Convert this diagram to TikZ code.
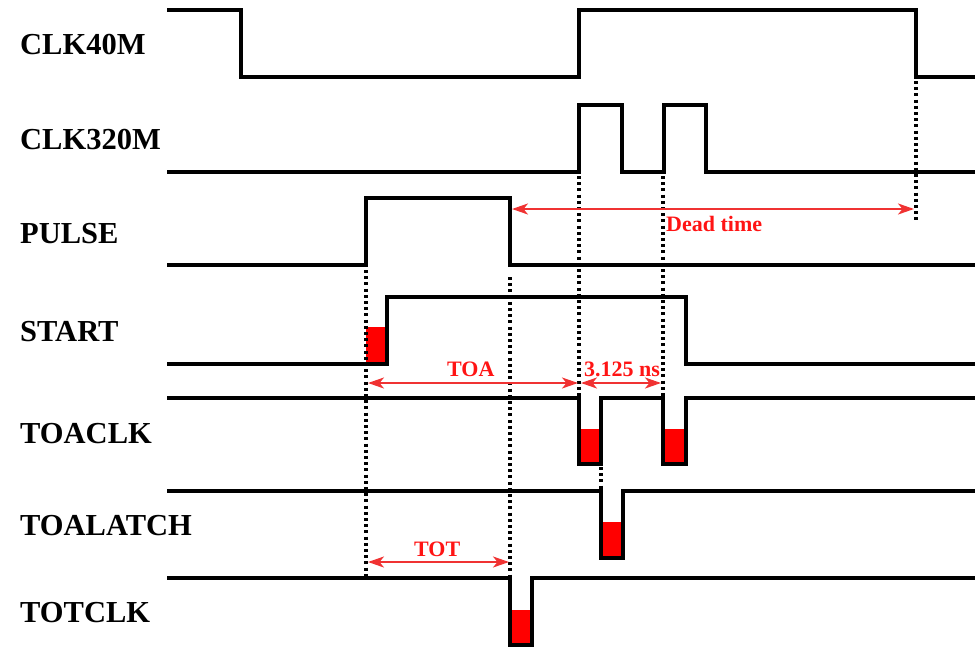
\documentclass[tikz,border=0pt]{standalone}
\usepackage{fontspec}
\setmainfont{Liberation Serif}
\usetikzlibrary{arrows.meta}
\definecolor{arrred}{RGB}{240,50,50}
\definecolor{txtred}{RGB}{255,20,20}
\definecolor{boxred}{RGB}{255,0,0}
\tikzset{
  wave/.style={line width=4.4pt, line join=miter, black},
  sig/.style={anchor=base west, inner sep=0pt, font=\fontsize{30.5}{36}\selectfont\bfseries},
  dotline/.style={line width=3.2pt, dash pattern=on 3pt off 3.2pt, black},
  meas/.style={arrred, line width=2.2pt, {Stealth[length=16pt,width=11pt,inset=4.5pt]}-{Stealth[length=16pt,width=11pt,inset=4.5pt]}},
  measlbl/.style={anchor=base west, inner sep=0pt, text=txtred, font=\fontsize{22}{26}\selectfont\bfseries},
  redbox/.style={fill=boxred, draw=none}
}
\begin{document}
\begin{tikzpicture}[x=1pt,y=-1pt]
\useasboundingbox (0,0) rectangle (975,649);

% signal labels
\node[sig] (l1) at (20,54) {CLK40M};
\node[sig] (l2) at (20,149) {CLK320M};
\node[sig] (l3) at (20,243) {PULSE};
\node[sig] (l4) at (20,341) {START};
\node[sig] (l5) at (20,443) {TOACLK};
\node[sig] (l6) at (20,535) {TOALATCH};
\node[sig] (l7) at (20,622) {TOTCLK};

% red boxes
\fill[redbox] (366,327) rectangle (387,364);
\fill[redbox] (579,429) rectangle (601,464);
\fill[redbox] (663,429) rectangle (686,464);
\fill[redbox] (601,522) rectangle (623,558);
\fill[redbox] (510,610) rectangle (532,645);

% waveforms
\draw[wave] (167,10) -- (241,10) -- (241,77) -- (579,77) -- (579,10) -- (916,10) -- (916,77) -- (980,77);
\draw[wave] (167,172) -- (579,172) -- (579,105) -- (622,105) -- (622,172) -- (664,172) -- (664,105) -- (706,105) -- (706,172) -- (980,172);
\draw[wave] (167,265) -- (366,265) -- (366,198) -- (510,198) -- (510,265) -- (980,265);
\draw[wave] (167,364) -- (387,364) -- (387,297) -- (686,297) -- (686,364) -- (980,364);
\draw[wave] (167,398) -- (579,398) -- (579,464) -- (601,464) -- (601,398) -- (663,398) -- (663,464) -- (686,464) -- (686,398) -- (980,398);
\draw[wave] (167,491) -- (601,491) -- (601,558) -- (623,558) -- (623,491) -- (980,491);
\draw[wave] (167,578) -- (510,578) -- (510,645) -- (532,645) -- (532,578) -- (980,578);

% dotted guide lines
\coordinate (d1a) at (366,270); \coordinate (d1b) at (366,578);
\coordinate (d2a) at (510,277); \coordinate (d2b) at (510,578);
\coordinate (d3a) at (579,176); \coordinate (d3b) at (579,398);
\coordinate (d4a) at (663,176); \coordinate (d4b) at (663,398);
\coordinate (d5a) at (916,81);  \coordinate (d5b) at (916,221);
\coordinate (d6a) at (601,467); \coordinate (d6b) at (601,491);
\draw[dotline] (d1a) -- (d1b);
\draw[dotline] (d2a) -- (d2b);
\draw[dotline] (d3a) -- (d3b);
\draw[dotline] (d4a) -- (d4b);
\draw[dotline] (d5a) -- (d5b);
\draw[dotline] (d6a) -- (d6b);

% measurement arrows
\coordinate (dtA) at (512,209); \coordinate (dtB) at (914,209);
\coordinate (toaA) at (368,383); \coordinate (toaB) at (578,383);
\coordinate (nsA) at (581,383); \coordinate (nsB) at (661,383);
\coordinate (totA) at (368,562); \coordinate (totB) at (509,562);
\draw[meas] (dtA) -- (dtB);
\draw[meas] (toaA) -- (toaB);
\draw[meas] (nsA) -- (nsB);
\draw[meas] (totA) -- (totB);

\node[measlbl] (tdt) at (666,231) {Dead time};
\node[measlbl] (ttoa) at (447,376) {TOA};
\node[measlbl] (tns) at (584,376) {3.125 ns};
\node[measlbl] (ttot) at (414,556) {TOT};
\end{tikzpicture}
\end{document}
